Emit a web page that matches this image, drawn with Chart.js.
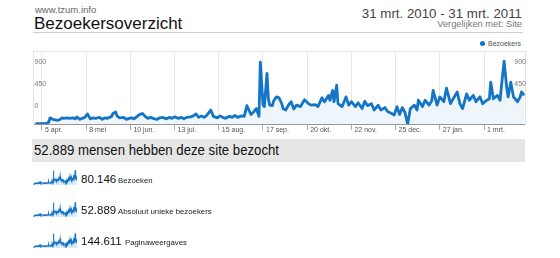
<!DOCTYPE html>
<html>
<head>
<meta charset="utf-8">
<script src="https://cdn.jsdelivr.net/npm/chart.js@4.4.1/dist/chart.umd.min.js"></script>
<style>
  body { margin: 0; width: 560px; height: 258px; background: #fff; position: relative; overflow: hidden;
         font-family: "Liberation Sans", Arial, sans-serif; }
  .t { position: absolute; white-space: nowrap; line-height: 1; }
  #site { left: 35px; top: 5.3px; font-size: 9.5px; color: #666; }
  #title { left: 34px; top: 15px; font-size: 17px; color: #111; }
  #rule { position: absolute; left: 33px; top: 32px; width: 490px; height: 1px; background: #cfcfcf; }
  #range { right: 38px; top: 7px; font-size: 13.3px; color: #444; }
  #compare { right: 38px; top: 20.4px; font-size: 9.3px; color: #777; }
  #legend { left: 480px; top: 40px; font-size: 7px; color: #555; }
  #legend i { display: inline-block; width: 5px; height: 5px; border-radius: 50%; background: #1474c6; margin-right: 3px; vertical-align: 0px; }
  #main { position: absolute; left: 0; top: 46px; }
  #band { position: absolute; left: 32px; top: 139px; width: 493px; height: 23px; background: #e6e6e6; }
  #bandText { left: 33.5px; top: 143px; font-size: 14.5px; color: #111; transform: scaleX(0.91); transform-origin: left top; }
  .spark { position: absolute; left: 33px; }
  .num { font-size: 11.5px; color: #111; }
  .lab { font-size: 7.8px; color: #222; }
</style>
</head>
<body>
<div class="t" id="site">www.tzum.info</div>
<div class="t" id="title">Bezoekersoverzicht</div>
<div id="rule"></div>
<div class="t" id="range">31 mrt. 2010 - 31 mrt. 2011</div>
<div class="t" id="compare">Vergelijken met: Site</div>
<div class="t" id="legend"><i></i>Bezoekers</div>
<canvas id="main" width="560" height="92"></canvas>
<div id="band"></div>
<div class="t" id="bandText">52.889 mensen hebben deze site bezocht</div>
<div id="stats"></div>

<script>
const days = [0, 3, 8, 10, 11, 13, 15, 17, 18, 20, 21, 24, 26, 28, 30, 31, 33, 35, 37, 39,
  41, 43, 45, 48, 50, 52, 54, 57, 58, 60, 61, 63, 66, 68, 70, 72, 74, 76, 78, 80,
  82, 84, 86, 89, 91, 93, 95, 98, 100, 102, 104, 107, 109, 111, 113, 116, 118, 120, 122, 124,
  126, 128, 131, 133, 136, 138, 140, 142, 145, 147, 149, 151, 154, 156, 158, 160, 161, 163, 165, 167,
  168, 170, 171, 173, 174, 175, 177, 178, 180, 182, 183, 184, 185, 187, 189, 191, 193, 195, 198, 200,
  201, 204, 206, 209, 211, 214, 216, 219, 220, 222, 223, 225, 226, 229, 231, 232, 234, 236, 239, 241,
  244, 246, 248, 251, 253, 256, 258, 261, 263, 266, 268, 270, 272, 274, 276, 278, 280, 283, 285, 286,
  289, 291, 294, 296, 297, 300, 302, 305, 307, 310, 312, 315, 317, 319, 322, 324, 327, 329, 332, 334,
  337, 339, 340, 342, 345, 347, 348, 350, 352, 353, 355, 357, 360, 362, 363, 365];
const visits = [-360, -360, -360, -330, -240, -270, -280, -290, -280, -240, -250, -240, -250, -240, -260, -220, -270, -250, -230, -160,
  -260, -240, -250, -230, -270, -240, -250, -210, -150, -120, -200, -240, -230, -270, -250, -240, -260, -210, -170, -150,
  -210, -250, -230, -260, -270, -240, -230, -260, -230, -250, -220, -250, -230, -260, -230, -220, -200, -160, -230, -200,
  -230, -190, -80, -210, -240, -200, -230, -250, -210, -230, -190, -230, -200, -210, 10, -110, -170, -120, -50, -210,
  900, 30, -10, 670, 150, 20, 10, 110, 190, 170, 110, 50, -50, -80, 20, 90, -60, 20, -10, 90,
  130, 50, 20, 30, -10, 170, 90, 220, 120, 320, 90, 430, 50, -10, 120, 190, 20, 90, -10, 70,
  -50, 100, 10, 50, -80, 20, -80, -30, -110, -150, -180, -10, -170, -30, -130, -370, -50, 20, -80, 120,
  -10, 120, 20, 110, 320, 20, 190, 90, 370, 50, 150, 290, 50, -50, 250, 120, 220, 90, 190, 50,
  120, 150, 490, 150, 220, 120, 410, 920, 370, 190, 490, 190, 90, 190, 290, 220];

const monthTickDays = [5, 38, 71, 104, 137, 170, 203, 236, 269, 302, 335];
const monthTickLabels = ['5 apr.', '8 mei', '10 jun.', '13 jul.', '15 aug.', '17 sep.', '20 okt.', '22 nov.', '25 dec.', '27 jan.', '1 mrt.'];
const yTickValues = [0, 450, 900];

const statNumbers = ['80.146', '52.889', '144.611'];
const statLabels = ['Bezoeken', 'Absoluut unieke bezoekers', 'Paginaweergaves'];

Chart.defaults.font.family = '"Liberation Sans", Arial, sans-serif';

const blue = '#1474c6';
const points = days.map((d, i) => ({ x: d, y: visits[i] }));

function yAxis(pos) {
  return {
    position: pos,
    min: -366,
    max: 1114,
    afterBuildTicks: s => { s.ticks = yTickValues.map(v => ({ value: v })); },
    afterFit: s => { s.width = 0; },
    grid: { display: false, drawTicks: false },
    border: { color: '#e4e4e4' },
    ticks: {
      mirror: true,
      padding: pos === 'left' ? 1.5 : 1,
      crossAlign: pos === 'left' ? 'near' : 'far',
      color: '#777',
      font: { size: 7 }
    }
  };
}

new Chart(document.getElementById('main'), {
  type: 'line',
  data: {
    datasets: [{
      label: 'Bezoekers',
      data: points,
      borderColor: blue,
      borderWidth: 2.8,
      borderJoinStyle: 'round',
      backgroundColor: '#eef6fc',
      fill: 'start',
      pointRadius: 0,
      tension: 0
    }]
  },
  options: {
    responsive: false,
    animation: false,
    layout: { padding: { left: 33, right: 35, top: 4, bottom: 0 } },
    plugins: { legend: { display: false }, tooltip: { enabled: false } },
    scales: {
      x: {
        type: 'linear',
        min: -1.7,
        max: 365.6,
        afterBuildTicks: s => { s.ticks = monthTickDays.map(v => ({ value: v })); },
        afterFit: s => { s.height = 14; },
        grid: { color: '#e8e8e8', tickColor: '#aaa', tickLength: 6 },
        border: { color: '#999' },
        ticks: {
          align: 'start',
          labelOffset: 3,
          padding: -4,
          color: '#555',
          font: { size: 7 },
          callback: (v, i) => monthTickLabels[i]
        }
      },
      xTop: {
        type: 'linear',
        axis: 'x',
        position: 'top',
        min: -1.7,
        max: 365.6,
        afterFit: s => { s.height = 0; },
        grid: { display: false, drawTicks: false },
        border: { color: '#e6e6e6' },
        ticks: { display: false }
      },
      y: yAxis('left'),
      y2: yAxis('right')
    }
  }
});

// kleine grafiekjes naast de totalen
const stats = document.getElementById('stats');
const sparkTops = [170, 202, 233];
statNumbers.forEach((n, i) => {
  const c = document.createElement('canvas');
  c.className = 'spark';
  c.width = 44; c.height = 15;
  c.style.top = sparkTops[i] + 'px';
  stats.appendChild(c);

  const num = document.createElement('div');
  num.className = 't num';
  num.textContent = n;
  num.style.left = '81px';
  num.style.top = (173.6 + i * 31) + 'px';
  stats.appendChild(num);

  const lab = document.createElement('div');
  lab.className = 't lab';
  lab.textContent = statLabels[i];
  lab.style.left = (n.length > 6 ? 125 : 118) + 'px';
  lab.style.top = (176.5 + i * 31) + 'px';
  stats.appendChild(lab);

  new Chart(c, {
    type: 'line',
    data: {
      datasets: [{
        data: points,
        borderColor: blue,
        borderWidth: 1.1,
        backgroundColor: '#dbeaf7',
        fill: 'start',
        pointRadius: 0,
        tension: 0
      }]
    },
    options: {
      responsive: false,
      animation: false,
      layout: { padding: 0 },
      plugins: { legend: { display: false }, tooltip: { enabled: false } },
      scales: {
        x: { type: 'linear', min: 0, max: 365, display: false },
        y: { min: -420, max: 940, display: false }
      }
    }
  });
});
</script>
</body>
</html>
